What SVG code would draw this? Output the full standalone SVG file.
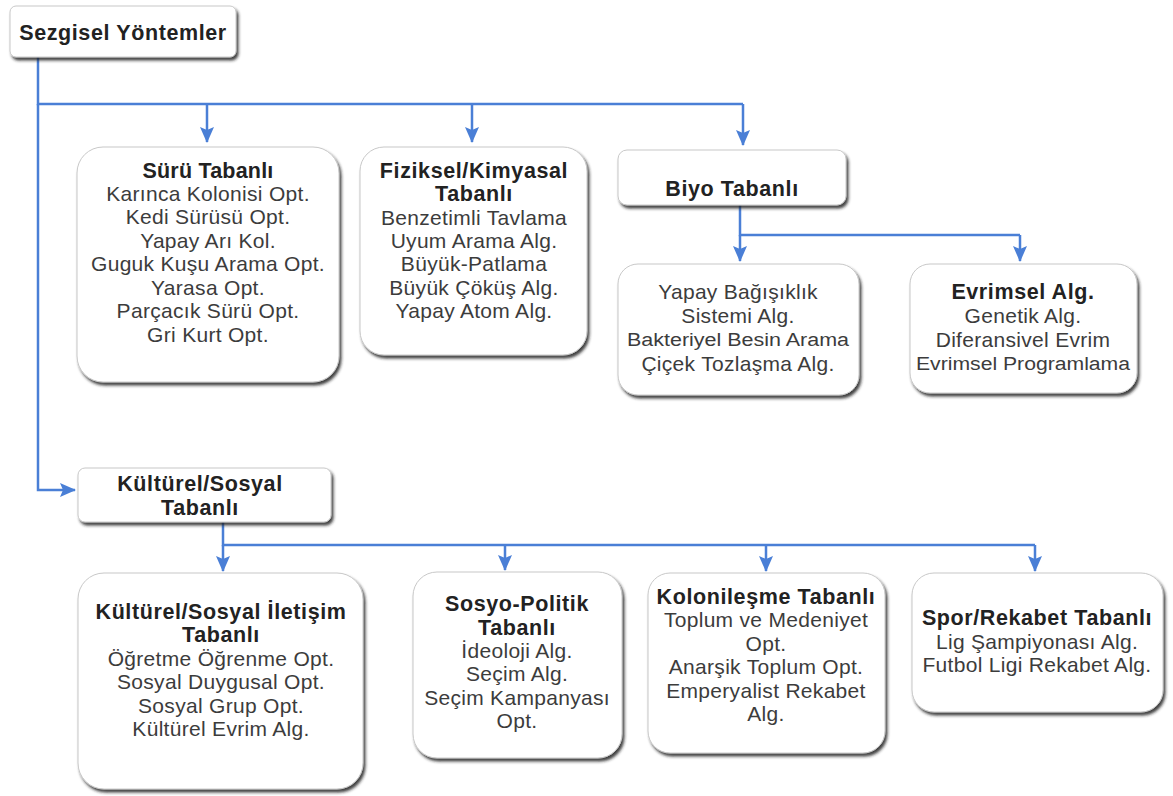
<svg xmlns="http://www.w3.org/2000/svg" width="1173" height="796" viewBox="0 0 1173 796">
  <defs>
    <filter id="shadow" x="-10%" y="-10%" width="125%" height="130%">
      <feDropShadow dx="2" dy="3" stdDeviation="1.6" flood-color="#222" flood-opacity="0.85"/>
    </filter>
    <marker id="arrow" viewBox="0 0 16 14" refX="15" refY="7" markerWidth="16" markerHeight="14" markerUnits="userSpaceOnUse" orient="auto">
      <path d="M0,0 L16,7 L0,14 L3,7 Z" fill="#4a7fd6"/>
    </marker>
    <style>
      .box { fill: #fff; stroke: #c8c8c8; stroke-width: 1; filter: url(#shadow); }
      .t { font-family: "Liberation Sans", Arial, sans-serif; font-size: 21px; letter-spacing: 0.3px; fill: #3c3c3c; text-anchor: middle; }
      .b { font-weight: bold; font-size: 21.5px; letter-spacing: 0.6px; fill: #222; }
      .s { font-size: 18px; letter-spacing: 0; }
      .link { fill: none; stroke: #4a7fd6; stroke-width: 2.5; }
    </style>
  </defs>
  <rect width="1173" height="796" fill="#fff"/>

  <!-- connectors -->
  <g id="connectors">
    <path class="link" d="M38,57 V104 H743"/>
    <path class="link" d="M207,104 V142" marker-end="url(#arrow)"/>
    <path class="link" d="M472,104 V142" marker-end="url(#arrow)"/>
    <path class="link" d="M743,104 V145" marker-end="url(#arrow)"/>
    <path class="link" d="M38,104 V490 H75" marker-end="url(#arrow)"/>
    <path class="link" d="M740,205 V235 H1020"/>
    <path class="link" d="M740,235 V261" marker-end="url(#arrow)"/>
    <path class="link" d="M1020,235 V261" marker-end="url(#arrow)"/>
    <path class="link" d="M223,522 V545 H1035"/>
    <path class="link" d="M223,545 V571" marker-end="url(#arrow)"/>
    <path class="link" d="M505,545 V570" marker-end="url(#arrow)"/>
    <path class="link" d="M766,545 V571" marker-end="url(#arrow)"/>
    <path class="link" d="M1035,545 V571" marker-end="url(#arrow)"/>
  </g>

  <!-- root -->
  <g id="sezgisel">
    <rect class="box" x="10" y="6" width="226" height="51" rx="6"/>
    <text class="t b" x="123" y="40" style="font-size:21.5px">Sezgisel Yöntemler</text>
  </g>

  <g id="suru">
    <rect class="box" x="77" y="147" width="262" height="235" rx="26"/>
    <text class="t b" x="208" y="178" style="letter-spacing:0.2px">Sürü Tabanlı</text>
    <text class="t" x="208" y="201">Karınca Kolonisi Opt.</text>
    <text class="t" x="208" y="224">Kedi Sürüsü Opt.</text>
    <text class="t" x="208" y="248">Yapay Arı Kol.</text>
    <text class="t" x="208" y="271">Guguk Kuşu Arama Opt.</text>
    <text class="t" x="208" y="295">Yarasa Opt.</text>
    <text class="t" x="208" y="318">Parçacık Sürü Opt.</text>
    <text class="t" x="208" y="342">Gri Kurt Opt.</text>
  </g>

  <g id="fiziksel">
    <rect class="box" x="360" y="147" width="227" height="208" rx="24"/>
    <text class="t b" x="474" y="178">Fiziksel/Kimyasal</text>
    <text class="t b" x="474" y="201">Tabanlı</text>
    <text class="t" x="474" y="225">Benzetimli Tavlama</text>
    <text class="t" x="474" y="248">Uyum Arama Alg.</text>
    <text class="t" x="474" y="271">Büyük-Patlama</text>
    <text class="t" x="474" y="295">Büyük Çöküş Alg.</text>
    <text class="t" x="474" y="318">Yapay Atom Alg.</text>
  </g>

  <g id="biyo">
    <rect class="box" x="618" y="150" width="228" height="55" rx="9"/>
    <text class="t b" x="732" y="196">Biyo Tabanlı</text>
  </g>

  <g id="yapay-bagisiklik">
    <rect class="box" x="618" y="264" width="241" height="131" rx="20"/>
    <text class="t" x="738" y="299">Yapay Bağışıklık</text>
    <text class="t" x="738" y="323">Sistemi Alg.</text>
    <text class="t s" x="738" y="346" textLength="222" lengthAdjust="spacingAndGlyphs">Bakteriyel Besin Arama</text>
    <text class="t" x="738" y="371">Çiçek Tozlaşma Alg.</text>
  </g>

  <g id="evrimsel">
    <rect class="box" x="910" y="264" width="227" height="129" rx="20"/>
    <text class="t b" x="1023" y="299">Evrimsel Alg.</text>
    <text class="t" x="1023" y="323">Genetik Alg.</text>
    <text class="t" x="1023" y="347">Diferansivel Evrim</text>
    <text class="t s" x="1023" y="370" textLength="214" lengthAdjust="spacingAndGlyphs">Evrimsel Programlama</text>
  </g>

  <g id="kulturel-sosyal">
    <rect class="box" x="78" y="468" width="253" height="54" rx="7"/>
    <text class="t b" x="200" y="491">Kültürel/Sosyal</text>
    <text class="t b" x="200" y="515">Tabanlı</text>
  </g>

  <g id="iletisim">
    <rect class="box" x="78" y="573" width="285" height="216" rx="26"/>
    <text class="t b" x="221" y="619">Kültürel/Sosyal İletişim</text>
    <text class="t b" x="221" y="642">Tabanlı</text>
    <text class="t" x="221" y="666">Öğretme Öğrenme Opt.</text>
    <text class="t" x="221" y="689">Sosyal Duygusal Opt.</text>
    <text class="t" x="221" y="713">Sosyal Grup Opt.</text>
    <text class="t" x="221" y="736">Kültürel Evrim Alg.</text>
  </g>

  <g id="sosyo-politik">
    <rect class="box" x="413" y="572" width="209" height="186" rx="24"/>
    <text class="t b" x="517" y="611">Sosyo-Politik</text>
    <text class="t b" x="517" y="635">Tabanlı</text>
    <text class="t" x="517" y="658">İdeoloji Alg.</text>
    <text class="t" x="517" y="681">Seçim Alg.</text>
    <text class="t" x="517" y="705">Seçim Kampanyası</text>
    <text class="t" x="517" y="728">Opt.</text>
  </g>

  <g id="kolonilesme">
    <rect class="box" x="648" y="573" width="237" height="180" rx="22"/>
    <text class="t b" x="766" y="604">Kolonileşme Tabanlı</text>
    <text class="t" x="766" y="627">Toplum ve Medeniyet</text>
    <text class="t" x="766" y="651">Opt.</text>
    <text class="t" x="766" y="674">Anarşik Toplum Opt.</text>
    <text class="t" x="766" y="698">Emperyalist Rekabet</text>
    <text class="t" x="766" y="721">Alg.</text>
  </g>

  <g id="spor-rekabet">
    <rect class="box" x="912" y="573" width="251" height="139" rx="22"/>
    <text class="t b" x="1037" y="625">Spor/Rekabet Tabanlı</text>
    <text class="t" x="1037" y="649">Lig Şampiyonası Alg.</text>
    <text class="t" x="1037" y="672">Futbol Ligi Rekabet Alg.</text>
  </g>
</svg>
